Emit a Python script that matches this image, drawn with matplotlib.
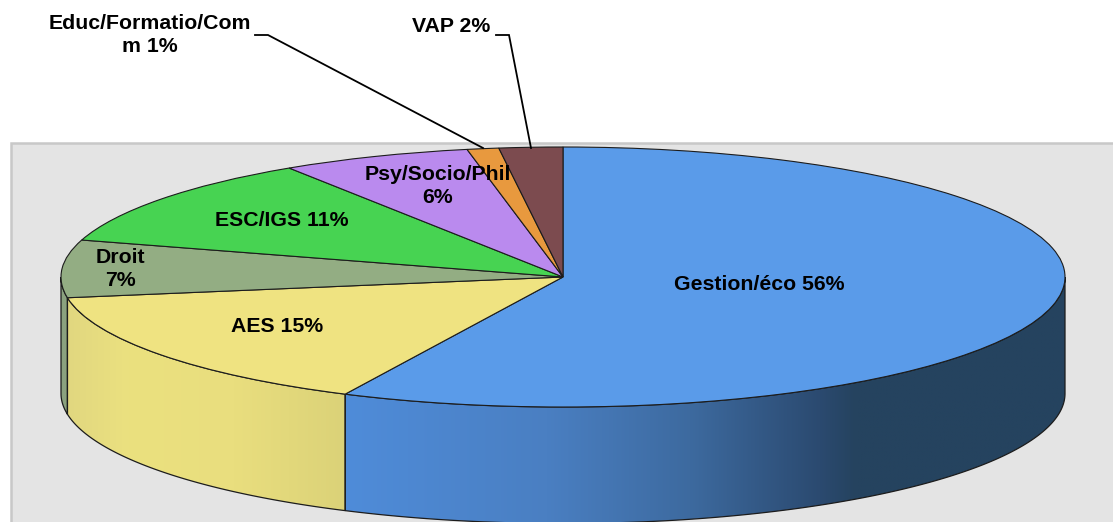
import numpy as np
import matplotlib
matplotlib.use("Agg")
import matplotlib.pyplot as plt
from matplotlib.colors import LinearSegmentedColormap
from matplotlib.patches import Polygon, Rectangle

labels = ["Gestion/éco 56%", "AES 15%", "Droit\n7%", "ESC/IGS 11%",
          "Psy/Socio/Phil\n6%", "Educ/Formatio/Com\nm 1%", "VAP 2%"]
values = [56, 15, 7, 11, 6, 1, 2]
colors = ["#5A9BE9", "#EFE381", "#93AD83", "#47D352", "#BA8AEE", "#E8993E", "#7C4B4F"]

W, H = 1113, 522
CX, CY, RX, RY, DEPTH = 563.0, 277.0, 502.0, 130.0, 116.5
EDGE = "#1c1c1c"

plt.rcParams["font.family"] = ["Liberation Sans", "DejaVu Sans"]
fig = plt.figure(figsize=(W / 100, H / 100), dpi=100)
ax = fig.add_axes([0, 0, 1, 1])


def px(x, y):
    return (x - CX) / RX, (CY - y) / RY


d = DEPTH / RY
x0, y0 = px(11, 143)
x1, y1 = px(W + 10, H + 10)
ax.add_patch(Rectangle((x0, y1), x1 - x0, y0 - y1, fc="#E4E4E4", ec="#C8C8C8", lw=1.8, zorder=0))

fracs = np.array(values, dtype=float) / sum(values)
edges = np.concatenate([[0], np.cumsum(fracs)]) * 2 * np.pi

side_stops = {
    0: [(0.0, "#4F8CD9"), (0.28, "#4A7FC2"), (0.48, "#3D6A9F"), (0.66, "#2B4A70"), (0.71, "#25435F"), (1.0, "#25435F")],
    1: [(0.0, "#E1D780"), (0.22, "#EBE17F"), (0.6, "#E9DE7E"), (1.0, "#DBD278")],
    2: [(0.0, "#8BA27F"), (1.0, "#8BA27F")],
}
for i, stops in side_stops.items():
    a = max(edges[i], np.pi / 2)
    b = min(edges[i + 1], 3 * np.pi / 2)
    t = np.linspace(a, b, 200)
    xs, ys = np.sin(t), np.cos(t)
    verts = np.vstack([np.c_[xs, ys], np.c_[xs[::-1], ys[::-1] - d]])
    poly = Polygon(verts, closed=True, fc="none", ec=EDGE, lw=0.9, zorder=3)
    ax.add_patch(poly)
    cmap = LinearSegmentedColormap.from_list(f"s{i}", stops)
    im = ax.imshow(np.linspace(0, 1, 256)[None, :], cmap=cmap, aspect="auto", zorder=2,
                   extent=(xs.min(), xs.max(), ys.min() - d, ys.max()), interpolation="bilinear")
    im.set_clip_path(Polygon(verts, closed=True, transform=ax.transData))

wedges, _ = ax.pie(values, colors=colors, startangle=90, counterclock=False, radius=1,
                   wedgeprops=dict(edgecolor=EDGE, linewidth=0.8))
for w in wedges:
    w.set_zorder(4)

ax.set_aspect("auto")
ax.set_xlim(px(0, 0)[0], px(W, 0)[0])
ax.set_ylim(px(0, H)[1], px(0, 0)[1])
ax.axis("off")

label_pos = [(759, 285), (277, 327), (120, 269), (282, 221), (438, 186), (150, 35), (451, 26)]
for lab, (lx, ly) in zip(labels, label_pos):
    tx, ty = px(lx, ly)
    ax.text(tx, ty, lab, ha="center", va="center", fontsize=15.3, fontweight="bold",
            color="black", zorder=6, linespacing=1.33)

leaders = {
    5: [(255, 35), (268, 35), (483, 148)],
    6: [(496, 35), (509, 35), (531, 148)],
}
for pts in leaders.values():
    xy = np.array([px(*p) for p in pts])
    ax.plot(xy[:, 0], xy[:, 1], color="black", lw=1.3, zorder=5, solid_joinstyle="miter")

fig.savefig("out.png", dpi=100, facecolor="white")
